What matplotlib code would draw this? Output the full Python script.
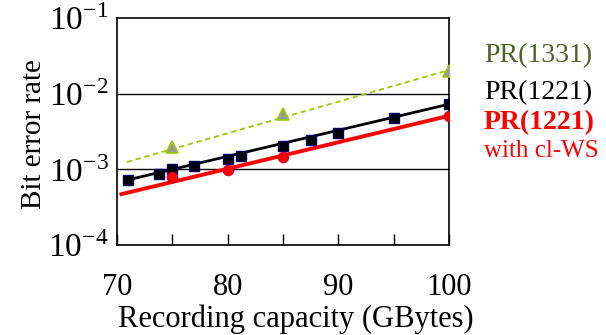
import numpy as np
import matplotlib
matplotlib.use("Agg")
from matplotlib import pyplot as plt
from matplotlib.ticker import FixedLocator, FixedFormatter

plt.rcParams['font.family'] = ['Liberation Serif', 'DejaVu Serif']
plt.rcParams['mathtext.fontset'] = 'stix'

# measured points
cap_1221 = [71, 73.8, 75, 77, 80, 81.2, 85, 87.5, 90, 95, 100]
ber_1221 = [7.3e-4, 8.6e-4, 1.02e-3, 1.1e-3, 1.37e-3, 1.49e-3, 2.04e-3, 2.47e-3, 3.06e-3, 4.84e-3, 7.4e-3]

cap_ws = [75, 80, 85, 100]
ber_ws = [7.9e-4, 9.9e-4, 1.46e-3, 5.08e-3]

cap_1331 = [75, 85, 100]
ber_1331 = [2.0e-3, 5.4e-3, 2.0e-2]

# trend lines (endpoints)
fit_1221_x = [70.7, 100]
fit_1221_y = [7.1e-4, 7.26e-3]
fit_ws_x = [70.4, 100]
fit_ws_y = [4.7e-4, 5.1e-3]
fit_1331_x = [70.9, 100]
fit_1331_y = [1.25e-3, 2.05e-2]

xticks = [70, 80, 90, 100]
yticks = [1e-4, 1e-3, 1e-2, 1e-1]
ytick_labels = ['10$^{\\mathregular{-4}}$', '10$^{\\mathregular{-3}}$',
                '10$^{\\mathregular{-2}}$', '10$^{\\mathregular{-1}}$']

fig = plt.figure(figsize=(6.06, 3.35), dpi=100)
ax = fig.add_axes([117/606, 1 - 245/335, 332/606, 227/335])

ax.set_yscale('log')
ax.set_xlim(70, 100)
ax.set_ylim(1e-4, 1e-1)

for y in [1e-3, 1e-2]:
    ax.axhline(y, color='black', lw=1.0, zorder=1)

ax.plot(fit_1331_x, fit_1331_y, color='#99cc00', lw=1.3, ls=(0, (3, 2)), zorder=2)
ax.plot(fit_1221_x, fit_1221_y, color='black', lw=2.0, zorder=2)
ax.plot(fit_ws_x, fit_ws_y, color='#ff0000', lw=2.8, zorder=2)

ax.plot(cap_1331, ber_1331, ls='none', marker='^', ms=8, mfc='#999999',
        mec='#99cc00', mew=1.2, zorder=3)
ax.plot(cap_1221, ber_1221, ls='none', marker='s', ms=7.5, mfc='black',
        mec='#000066', mew=1.0, zorder=4)
ax.plot(cap_ws, ber_ws, ls='none', marker='o', ms=7.5, mfc='#ff0000',
        mec='#cc0033', mew=0.8, zorder=5)

ax.xaxis.set_major_locator(FixedLocator(xticks))
ax.xaxis.set_minor_locator(FixedLocator([75, 85, 95]))
ax.yaxis.set_major_locator(FixedLocator(yticks))
ax.yaxis.set_major_formatter(FixedFormatter(ytick_labels))
ax.yaxis.set_minor_locator(FixedLocator([]))
ax.tick_params(axis='x', which='both', direction='in', length=8, width=1.0,
               labelsize=22, pad=20)
ax.tick_params(axis='y', which='major', direction='in', length=0,
               labelsize=24, pad=6)
for s in ax.spines.values():
    s.set_linewidth(1.2)

ax.set_xlabel('Recording capacity (GBytes)', fontsize=22, labelpad=0)
ax.xaxis.set_label_coords(0.54, -0.26)
ax.set_ylabel('Bit error rate', fontsize=21)
ax.yaxis.set_label_coords(-0.21, 0.49)

fig.text(484/606, 1 - 56/335, 'PR(1331)', color='#4f6228', fontsize=20, va='center')
fig.text(484/606, 1 - 93/335, 'PR(1221)', color='black', fontsize=20, va='center')
fig.text(484/606, 1 - 123/335, 'PR(1221)', color='#ff0000', fontsize=20,
         fontweight='bold', va='center')
fig.text(484/606, 1 - 151/335, 'with cl-WS', color='#ff0000', fontsize=18, va='center')

fig.savefig('out.png', dpi=100)
